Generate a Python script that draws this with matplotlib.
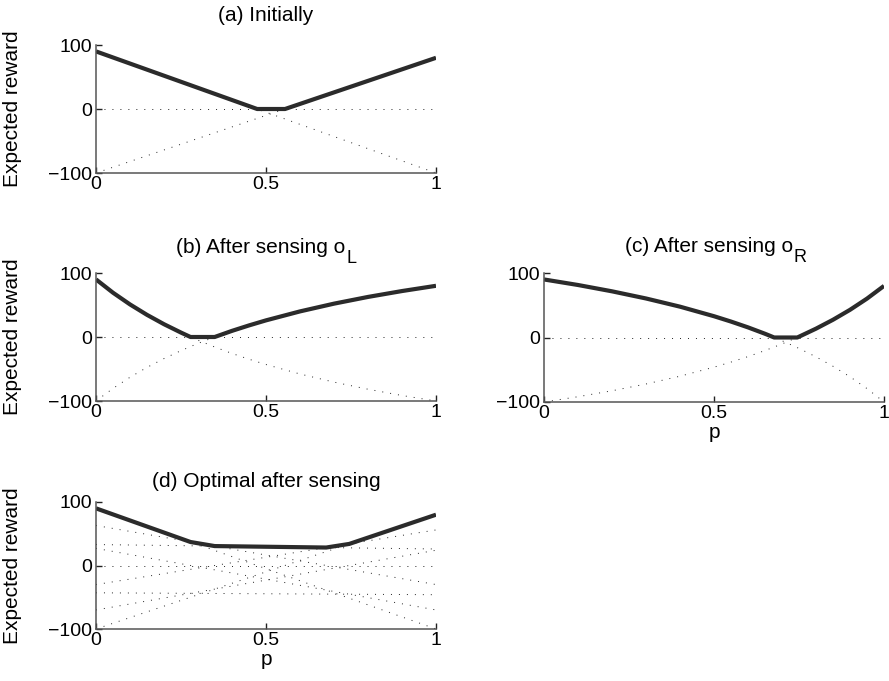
import matplotlib
matplotlib.use("Agg")
import matplotlib.pyplot as plt
from matplotlib.text import Annotation

plt.rcParams['font.family'] = ['Liberation Sans', 'DejaVu Sans']

# ---------------- data ----------------
# (a) Initially
p_a = [0.0, 1.0]
a_open1 = [90, -100]          # dotted line starting high
a_open2 = [-100, 80]          # dotted line starting low
a_wait = [0, 0]
p_a_best = [0.0, 0.474, 0.556, 1.0]
a_best = [90, 0, 0, 80]

# (b) After sensing o_L
p_b = [0.0, 0.05, 0.1, 0.15, 0.2, 0.25, 0.3, 0.35, 0.4, 0.45, 0.5, 0.6, 0.7, 0.8, 0.9, 1.0]
b_open1 = [90, 69.2, 50.9, 34.6, 20.0, 6.9, -5.0, -15.8, -25.7, -34.7, -43, -57.8, -70.5, -81.6, -91.4, -100]
b_open2 = [-100, -80.3, -62.9, -47.5, -33.7, -21.3, -10, 0.2, 9.6, 18.1, 26, 40, 52.1, 62.6, 71.8, 80]
p_b_best = [0.0, 0.05, 0.1, 0.15, 0.2, 0.25, 0.278, 0.349, 0.4, 0.45, 0.5, 0.6, 0.7, 0.8, 0.9, 1.0]
b_best = [90, 69.2, 50.9, 34.6, 20.0, 6.9, 0, 0, 9.6, 18.1, 26, 40, 52.1, 62.6, 71.8, 80]

# (c) After sensing o_R
p_c = [0.0, 0.1, 0.2, 0.3, 0.4, 0.5, 0.55, 0.6, 0.65, 0.7, 0.75, 0.8, 0.85, 0.9, 0.95, 1.0]
c_open1 = [90, 81.4, 71.6, 60.5, 47.8, 33, 24.7, 15.7, 5.8, -5, -16.9, -30, -44.6, -60.9, -79.2, -100]
c_open2 = [-100, -91.8, -82.6, -72.1, -60, -46, -38.1, -29.6, -20.2, -10, 1.3, 13.7, 27.5, 42.9, 60.3, 80]
p_c_best = [0.0, 0.1, 0.2, 0.3, 0.4, 0.5, 0.55, 0.6, 0.65, 0.677, 0.745, 0.8, 0.85, 0.9, 0.95, 1.0]
c_best = [90, 81.4, 71.6, 60.5, 47.8, 33, 24.7, 15.7, 5.8, 0, 0, 13.7, 27.5, 42.9, 60.3, 80]

# (d) Optimal after sensing: value of each plan at p=0 and p=1
d_start = [90, -43, 27, 33, -100, -30, 63, -70, 0]
d_end = [-100, -46, -70, 26, 80, 56, -30, 24, 0]
p_d_best = [0.0, 0.278, 0.349, 0.677, 0.745, 1.0]
d_best = [90, 37, 30.6, 28.3, 34, 80]

titles = ['(a) Initially', '(b) After sensing o', '(c) After sensing o', '(d) Optimal after sensing']
title_subs = ['', 'L', 'R', '']
xticks = [0, 0.5, 1]
xticklabels = ['0', '0.5', '1']
yticks = [-100, 0, 100]
yticklabels = ['\u2212100', '0', '100']

# ---------------- layout ----------------
W, H = 889, 681
fig = plt.figure(figsize=(W / 100, H / 100), dpi=100)

def rect(l, r, t, b):
    return [l / W, 1 - b / H, (r - l) / W, (b - t) / H]

ax_a = fig.add_axes(rect(96, 436, 45, 173))
ax_b = fig.add_axes(rect(96, 436, 273, 401))
ax_c = fig.add_axes(rect(544, 884, 273, 402))
ax_d = fig.add_axes(rect(96, 436, 502, 629))
axes = [ax_a, ax_b, ax_c, ax_d]

SOLID = '#2b2b2b'
DOT = '#222222'
dot_style = dict(color=DOT, lw=0.7, linestyle=(0, (1, 7.2)))
solid_style = dict(color=SOLID, lw=3.0, solid_capstyle='butt', solid_joinstyle='round')

ax_a.plot(p_a, a_wait, **dot_style)
ax_a.plot(p_a, a_open1, **dot_style)
ax_a.plot(p_a, a_open2, **dot_style)
ax_a.plot(p_a_best, a_best, **solid_style)

ax_b.plot([0, 1], [0, 0], **dot_style)
ax_b.plot(p_b, b_open1, **dot_style)
ax_b.plot(p_b, b_open2, **dot_style)
ax_b.plot(p_b_best, b_best, **solid_style)

ax_c.plot([0, 1], [0, 0], **dot_style)
ax_c.plot(p_c, c_open1, **dot_style)
ax_c.plot(p_c, c_open2, **dot_style)
ax_c.plot(p_c_best, c_best, **solid_style)

for s, e in zip(d_start, d_end):
    ax_d.plot([0, 1], [s, e], **dot_style)
ax_d.plot(p_d_best, d_best, **solid_style)

FS_TICK = 14
FS = 15
for ax in axes:
    ax.set_xlim(0, 1)
    ax.set_ylim(-100, 100)
    ax.set_xticks(xticks)
    ax.set_xticklabels(xticklabels)
    ax.set_yticks(yticks)
    ax.set_yticklabels(yticklabels)
    for sp in ['top', 'right']:
        ax.spines[sp].set_visible(False)
    for sp in ['left', 'bottom']:
        ax.spines[sp].set_color('#555555')
        ax.spines[sp].set_linewidth(1.1)
    ax.tick_params(direction='in', length=4, width=1.0, color='#222222',
                   labelsize=FS_TICK, pad=3)
    ax.tick_params(axis='x', pad=2)

# titles: (center x px, baseline y px)
title_pos = [(266, 21), (261, 253), (709, 252), (266, 487)]
for t, sub, (cx, by) in zip(titles, title_subs, title_pos):
    main = fig.text(cx / W, 1 - by / H, t, ha='center', va='baseline', fontsize=FS)
    if sub:
        fig.add_artist(Annotation(
            sub, xy=(1, 0), xycoords=main, xytext=(0.5, -4),
            textcoords='offset points', fontsize=FS - 2, va='baseline', ha='left'))

for ax in [ax_a, ax_b, ax_d]:
    ax.set_ylabel('Expected reward', fontsize=FS)
    ax.yaxis.set_label_coords(-0.218, 0.5)

for ax in [ax_c, ax_d]:
    ax.set_xlabel('p', fontsize=FS)
    ax.xaxis.set_label_coords(0.5, -0.165)

fig.savefig('out.png', dpi=100)
